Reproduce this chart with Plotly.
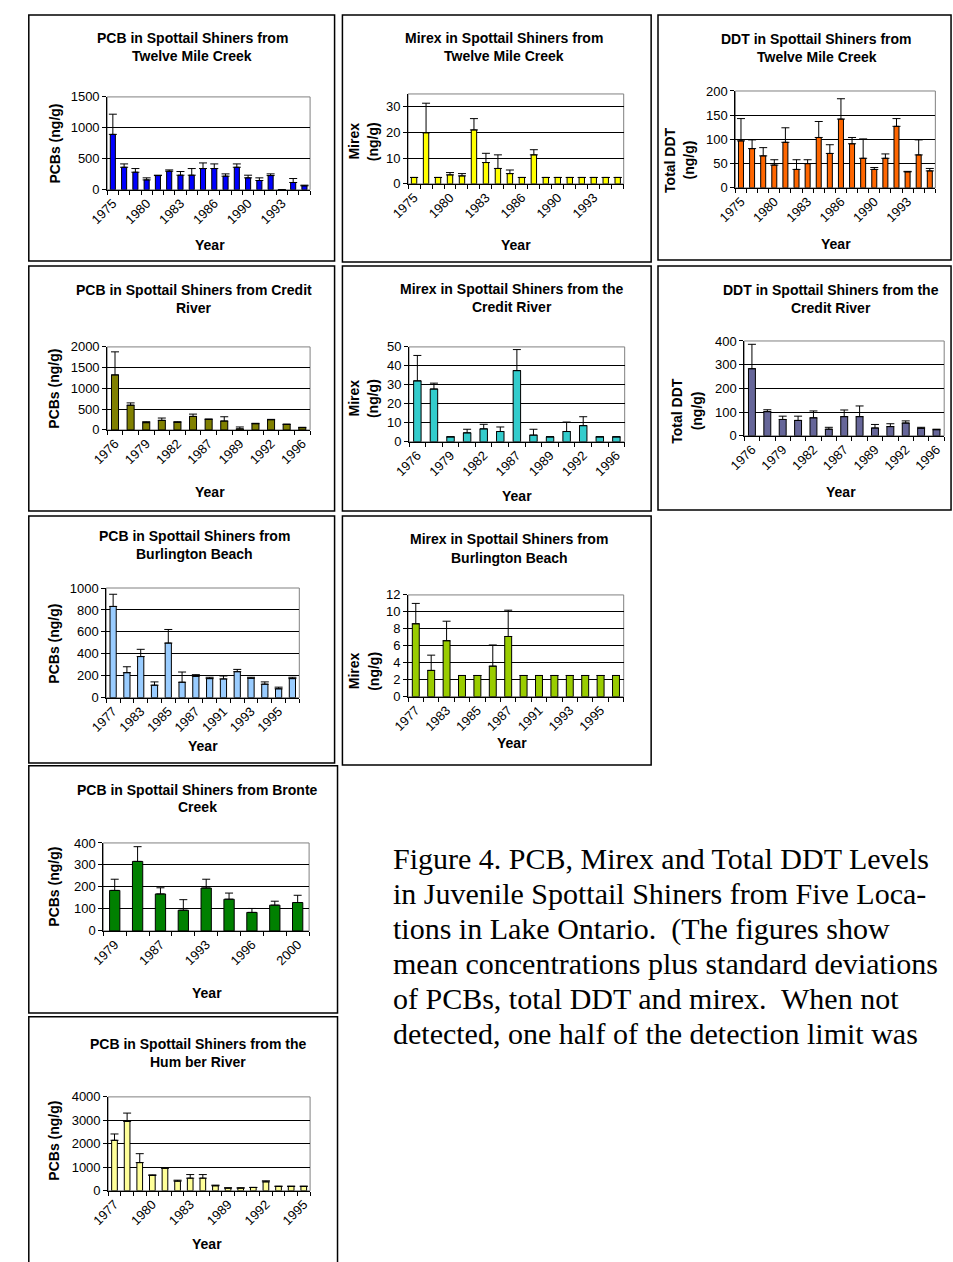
import plotly.graph_objects as go

# ---------------- data ----------------
twelve_years = ["1975", "1977", "1978", "1980", "1981", "1982", "1983", "1984", "1985",
                "1986", "1987", "1988", "1990", "1991", "1992", "1993", "1994", "1995"]
pcb_twelve_mean = [895, 364, 284, 160, 230, 300, 236, 236, 343, 343, 220, 364, 193, 150, 230, 3, 118, 64]
pcb_twelve_sd = [326, 54, 59, 33, 6, 21, 59, 107, 91, 75, 37, 54, 43, 43, 27, 2, 64, 11]
mirex_twelve_mean = [2.5, 19.9, 2.5, 3.5, 3.1, 21.0, 8.3, 6.0, 4.0, 2.5, 11.3, 2.5, 2.5, 2.5, 2.5, 2.5, 2.5, 2.5]
mirex_twelve_sd = [0, 11.5, 0, 0.9, 0.9, 4.4, 3.6, 5.3, 1.4, 0, 2.0, 0, 0, 0, 0, 0, 0, 0]
ddt_twelve_mean = [97, 81, 66, 47, 94, 38, 50, 104, 71, 142, 91, 61, 38, 61, 127, 33, 68, 35]
ddt_twelve_sd = [46, 18, 17, 11, 30, 20, 8, 33, 18, 42, 13, 40, 4, 9, 16, 1, 31, 5]

credit_years = ["1976", "1978", "1979", "1981", "1982", "1985", "1987", "1988", "1989",
                "1990", "1992", "1994", "1996"]
pcb_credit_mean = [1325, 595, 175, 230, 183, 325, 254, 214, 24, 150, 246, 135, 55]
pcb_credit_sd = [556, 56, 23, 56, 15, 56, 8, 103, 47, 9, 8, 0, 8]
mirex_credit_mean = [32.1, 27.8, 2.6, 4.7, 6.8, 5.4, 37.5, 3.5, 2.6, 5.4, 8.5, 2.6, 2.6]
mirex_credit_sd = [13.4, 3.1, 0, 1.9, 2.4, 2.4, 11.1, 3.1, 0, 5.0, 4.7, 0, 0]
ddt_credit_mean = [283, 102, 69, 65, 76, 28, 81, 81, 33, 39, 54, 32, 26]
ddt_credit_sd = [103, 8, 14, 18, 29, 8, 28, 45, 15, 12, 9, 4, 2]

burlington_years = ["1977", "1982", "1983", "1984", "1985", "1986", "1987", "1990", "1991",
                    "1992", "1993", "1994", "1995", "1996"]
pcb_burlington_mean = [832, 228, 375, 114, 498, 141, 195, 174, 171, 237, 177, 123, 81, 174]
pcb_burlington_sd = [111, 54, 66, 30, 124, 93, 15, 12, 27, 21, 9, 21, 15, 12]
mirex_burlington_mean = [8.6, 3.1, 6.6, 2.5, 2.5, 3.6, 7.1, 2.5, 2.5, 2.5, 2.5, 2.5, 2.5, 2.5]
mirex_burlington_sd = [2.4, 1.8, 2.3, 0, 0, 2.5, 3.1, 0, 0, 0, 0, 0, 0, 0]

bronte_years = ["1979", "1985", "1987", "1990", "1993", "1994", "1996", "1998", "2000"]
pcb_bronte_mean = [184, 316, 168, 94, 195, 144, 84, 117, 129]
pcb_bronte_sd = [51, 67, 28, 48, 40, 28, 18, 18, 33]

humber_years = ["1977", "1978", "1979", "1980", "1981", "1982", "1983", "1985", "1987",
                "1989", "1990", "1991", "1992", "1993", "1994", "1995"]
pcb_humber_mean = [2150, 2955, 1200, 650, 960, 410, 537, 537, 212, 113, 113, 141, 380, 184, 184, 184]
pcb_humber_sd = [270, 355, 380, 30, 15, 40, 153, 153, 28, 14, 14, 0, 44, 14, 14, 14]

caption_lines = [
    "Figure 4. PCB, Mirex and Total DDT Levels",
    "in Juvenile Spottail Shiners from Five Loca-",
    "tions in Lake Ontario.  (The figures show",
    "mean concentrations plus standard deviations",
    "of PCBs, total DDT and mirex.  When not",
    "detected, one half of the detection limit was",
]

# ---------------- layout config ----------------
W, H = 953, 1262
SANS = "Liberation Sans, Arial, Helvetica, sans-serif"
SERIF = "Liberation Serif, Times New Roman, serif"

panels = [
    dict(years=twelve_years, mean=pcb_twelve_mean, sd=pcb_twelve_sd, color="#0000FF",
         yrange=[0, 1500], dtick=500, step=3,
         title=["PCB in Spottail Shiners from", "Twelve Mile Creek"], tpos=(177, 31, 50),
         ytitle=["PCBs (ng/g)"], ypos=(37, 138), xpos=(195, 241),
         box=(10, 8, 322, 257), plot=(90, 297, 91, 185)),
    dict(years=twelve_years, mean=mirex_twelve_mean, sd=mirex_twelve_sd, color="#FFFF00",
         yrange=[0, 35], dtick=10, step=3,
         title=["Mirex in Spottail Shiners from", "Twelve Mile Creek"], tpos=(495, 31, 50),
         ytitle=["Mirex", "(ng/g)"], ypos=(352, 136), xpos=(507, 241),
         box=(330, 8, 645, 258), plot=(397, 617, 88, 179)),
    dict(years=twelve_years, mean=ddt_twelve_mean, sd=ddt_twelve_sd, color="#FF6600",
         yrange=[0, 200], dtick=50, step=3,
         title=["DDT in Spottail Shiners from", "Twelve Mile Creek"], tpos=(814, 32, 51),
         ytitle=["Total DDT", "(ng/g)"], ypos=(674, 155), xpos=(834, 240),
         box=(652, 8, 951, 256), plot=(731, 935, 85, 183)),
    dict(years=credit_years, mean=pcb_credit_mean, sd=pcb_credit_sd, color="#808000",
         yrange=[0, 2000], dtick=500, step=2,
         title=["PCB in Spottail Shiners from Credit", "River"], tpos=(179, 286, 305),
         ytitle=["PCBs (ng/g)"], ypos=(36, 386), xpos=(195, 491),
         box=(10, 262, 322, 510), plot=(90, 297, 344, 428)),
    dict(years=credit_years, mean=mirex_credit_mean, sd=mirex_credit_sd, color="#33CCCC",
         yrange=[0, 50], dtick=10, step=2,
         title=["Mirex in Spottail Shiners from the", "Credit River"], tpos=(503, 285, 304),
         ytitle=["Mirex", "(ng/g)"], ypos=(352, 396), xpos=(508, 495),
         box=(330, 262, 645, 510), plot=(398, 618, 344, 440)),
    dict(years=credit_years, mean=ddt_credit_mean, sd=ddt_credit_sd, color="#666699",
         yrange=[0, 400], dtick=100, step=2,
         title=["DDT in Spottail Shiners from the", "Credit River"], tpos=(829, 286, 305),
         ytitle=["Total DDT", "(ng/g)"], ypos=(682, 409), xpos=(839, 491),
         box=(652, 262, 951, 509), plot=(740, 944, 338, 434)),
    dict(years=burlington_years, mean=pcb_burlington_mean, sd=pcb_burlington_sd, color="#99CCFF",
         yrange=[0, 1000], dtick=200, step=2,
         title=["PCB in Spottail Shiners from", "Burlington Beach"], tpos=(179, 535, 554),
         ytitle=["PCBs (ng/g)"], ypos=(36, 644), xpos=(188, 748),
         box=(10, 515, 322, 765), plot=(89, 286, 588, 699)),
    dict(years=burlington_years, mean=mirex_burlington_mean, sd=mirex_burlington_sd, color="#99CC00",
         yrange=[0, 12], dtick=2, step=2,
         title=["Mirex in Spottail Shiners from", "Burlington Beach"], tpos=(500, 538, 558),
         ytitle=["Mirex", "(ng/g)"], ypos=(352, 672), xpos=(503, 745),
         box=(330, 515, 645, 767), plot=(397, 617, 595, 698)),
    dict(years=bronte_years, mean=pcb_bronte_mean, sd=pcb_bronte_sd, color="#008000",
         yrange=[0, 400], dtick=100, step=2,
         title=["PCB in Spottail Shiners from Bronte", "Creek"], tpos=(182, 792, 810),
         ytitle=["PCBs (ng/g)"], ypos=(36, 890), xpos=(192, 998),
         box=(10, 768, 325, 1018), plot=(86, 296, 846, 935)),
    dict(years=humber_years, mean=pcb_humber_mean, sd=pcb_humber_sd, color="#FFFF99",
         yrange=[0, 4000], dtick=1000, step=3,
         title=["PCB in Spottail Shiners from the", "Hum ber River"], tpos=(183, 1049, 1068),
         ytitle=["PCBs (ng/g)"], ypos=(36, 1147), xpos=(192, 1252),
         box=(10, 1022, 325, 1275), plot=(91, 297, 1103, 1198)),
]


def px(x):
    return x / W


def py(y):
    return 1 - y / H


fig = go.Figure()
shapes = []
annotations = []
axes = {}
TICKFONT = dict(family=SANS, size=13, color="black")
BOLD = dict(family=SANS, size=14, color="black", weight="bold")

for i, p in enumerate(panels, start=1):
    xa = "x" if i == 1 else f"x{i}"
    ya = "y" if i == 1 else f"y{i}"
    xname = "xaxis" if i == 1 else f"xaxis{i}"
    yname = "yaxis" if i == 1 else f"yaxis{i}"
    n = len(p["years"])
    fig.add_trace(go.Bar(
        x=p["years"], y=p["mean"], xaxis=xa, yaxis=ya,
        marker=dict(color=p["color"], line=dict(color="black", width=1)),
        error_y=dict(type="data", array=p["sd"], arrayminus=[0] * n, symmetric=False,
                     color="black", thickness=1, width=4),
        showlegend=False,
    ))
    x0, x1, yt, yb = p["plot"]
    axes[xname] = dict(
        domain=[px(x0), px(x1)], anchor=ya, type="category",
        categoryorder="array", categoryarray=p["years"],
        tickmode="array", tickvals=p["years"],
        ticktext=[y if k % p["step"] == 0 else "" for k, y in enumerate(p["years"])],
        tickangle=-45, ticks="outside", ticklen=4, tickcolor="black", tickwidth=1,
        tickson="boundaries", showline=True, linecolor="black", linewidth=1,
        showgrid=False, zeroline=False, fixedrange=True, tickfont=TICKFONT,
    )
    axes[yname] = dict(
        domain=[py(yb), py(yt)], anchor=xa, range=p["yrange"], tick0=0, dtick=p["dtick"],
        ticks="outside", ticklen=4, tickcolor="black", tickwidth=1,
        showline=True, linecolor="black", linewidth=1,
        showgrid=True, gridcolor="black", gridwidth=1, zeroline=False, fixedrange=True,
        tickfont=TICKFONT,
    )
    shapes.append(dict(type="rect", xref="paper", yref="paper",
                       x0=px(x0), x1=px(x1), y0=py(yb), y1=py(yt),
                       line=dict(color="#808080", width=1), layer="below"))
    bx0, by0, bx1, by1 = p["box"]
    shapes.append(dict(type="rect", xref="paper", yref="paper",
                       x0=px(bx0), x1=px(bx1), y0=py(by1), y1=py(by0),
                       line=dict(color="black", width=1.5), layer="below"))
    tx, ty1, ty2 = p["tpos"]
    for line, ty in zip(p["title"], (ty1, ty2)):
        annotations.append(dict(text=line, x=px(tx), y=py(ty), xref="paper", yref="paper",
                                xanchor="center", yanchor="middle", showarrow=False, font=BOLD))
    yx, yy = p["ypos"]
    lines = p["ytitle"]
    offs = [0] if len(lines) == 1 else [-10, 10]
    for line, o in zip(lines, offs):
        annotations.append(dict(text=line, x=px(yx + o), y=py(yy), xref="paper", yref="paper",
                                xanchor="center", yanchor="middle", showarrow=False,
                                textangle=-90, font=BOLD))
    xx, xy = p["xpos"]
    annotations.append(dict(text="Year", x=px(xx), y=py(xy), xref="paper", yref="paper",
                            xanchor="center", yanchor="middle", showarrow=False, font=BOLD))

for k, line in enumerate(caption_lines):
    annotations.append(dict(text=line, x=px(380), y=py(862 + 35.3 * k), xref="paper", yref="paper",
                            xanchor="left", yanchor="middle", showarrow=False,
                            font=dict(family=SERIF, size=30, color="black")))

fig.update_layout(
    width=W, height=H, margin=dict(l=0, r=0, t=0, b=0),
    paper_bgcolor="white", plot_bgcolor="rgba(0,0,0,0)",
    bargap=0.55, shapes=shapes, annotations=annotations, **axes,
)

fig.write_html("out.html", config={"displayModeBar": False},
               post_script="document.body.style.margin='0';document.body.style.overflow='hidden';")
